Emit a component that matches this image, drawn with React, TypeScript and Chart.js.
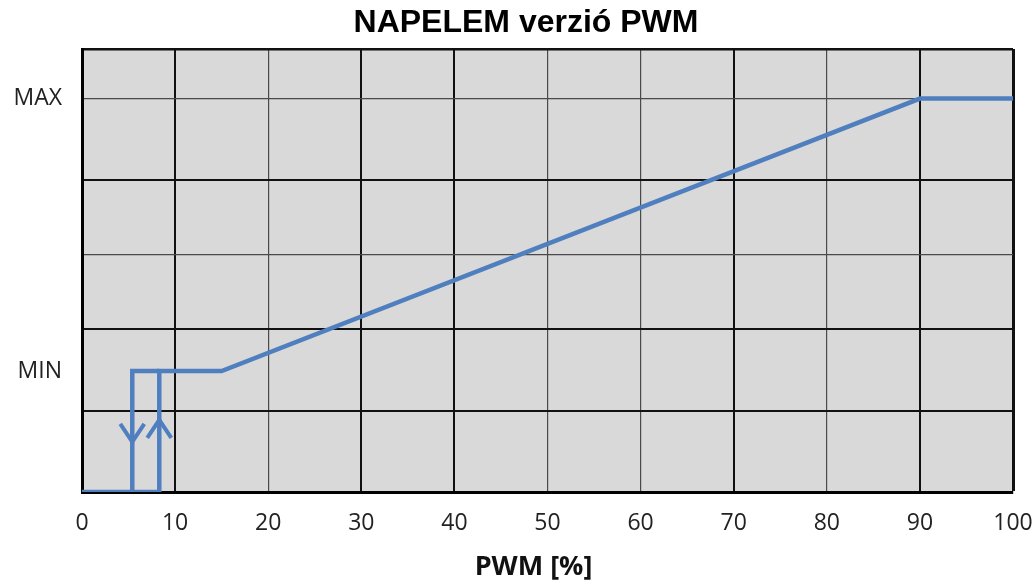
import React, { useEffect, useRef } from "react";
import { Chart, registerables } from "chart.js";

Chart.register(...registerables);

// ---- data ----
const chartTitle = "NAPELEM verzió PWM";
const xAxisTitle = "PWM [%]";
const xTickValues = [0, 10, 20, 30, 40, 50, 60, 70, 80, 90, 100];
// y in percent of the vertical extent (0 = bottom, 100 = top)
const yGridValues = [0, 18.3, 36.8, 53.7, 70.4, 88.8, 100];
const yLabelValues = [27.3, 88.8];
const yLabelTexts = ["MIN", "MAX"];
const minLevel = 27.3;
const maxLevel = 88.8;

// main curve (switch-on path and ramp)
const mainX = [0, 8.3, 8.3, 15, 90, 100];
const mainY = [0, 0, minLevel, minLevel, maxLevel, maxLevel];
// switch-off branch of the hysteresis
const offX = [5.4, 5.4, 8.3];
const offY = [0, minLevel, minLevel];
// arrow heads: tip positions and direction (-1 down, 1 up)
const arrowX = [5.4, 8.3];
const arrowY = [11.3, 16.3];
const arrowDir = [-1, 1];

// grid emphasis (thicker lines)
const thickX = [10, 30, 40, 70, 90];
const thickY = [18.3, 36.8, 70.4];

const BLUE = "#4f7fbf";

const bgPlugin = {
  id: "plotBg",
  beforeDraw(chart: any) {
    const { ctx, chartArea } = chart;
    ctx.save();
    ctx.fillStyle = "#d9d9d9";
    ctx.fillRect(chartArea.left, chartArea.top, chartArea.right - chartArea.left, chartArea.bottom - chartArea.top);
    ctx.restore();
  },
};

const textPlugin = {
  id: "texts",
  afterDraw(chart: any) {
    const { ctx, chartArea, width } = chart;
    ctx.save();
    ctx.textAlign = "center";
    ctx.textBaseline = "middle";
    ctx.fillStyle = "#000";
    ctx.font = "bold 32px 'Liberation Sans', Arial, sans-serif";
    ctx.fillText(chartTitle, width / 2 + 9, 23);
    ctx.fillStyle = "#111";
    ctx.font = "bold 27px 'Open Sans', sans-serif";
    ctx.fillText(xAxisTitle, (chartArea.left + chartArea.right) / 2 - 14, chartArea.bottom + 75);
    ctx.restore();
  },
};

const arrowPlugin = {
  id: "arrows",
  afterDatasetsDraw(chart: any) {
    const { ctx, scales } = chart;
    ctx.save();
    ctx.strokeStyle = BLUE;
    ctx.lineWidth = 4;
    ctx.lineCap = "butt";
    ctx.lineJoin = "miter";
    for (let i = 0; i < arrowX.length; i++) {
      const px = scales.x.getPixelForValue(arrowX[i]);
      const py = scales.y.getPixelForValue(arrowY[i]);
      const d = arrowDir[i];
      ctx.beginPath();
      ctx.moveTo(px - 12, py + 18 * d);
      ctx.lineTo(px, py);
      ctx.lineTo(px + 12, py + 18 * d);
      ctx.stroke();
    }
    ctx.restore();
  },
};

export default function App() {
  const ref = useRef<HTMLCanvasElement | null>(null);
  useEffect(() => {
    if (!ref.current) return;
    const chart = new Chart(ref.current, {
      type: "scatter",
      data: {
        datasets: [
          {
            data: mainX.map((x, i) => ({ x, y: mainY[i] })),
            showLine: true,
            borderColor: BLUE,
            borderWidth: 4.5,
            pointRadius: 0,
            fill: false,
            tension: 0,
          },
          {
            data: offX.map((x, i) => ({ x, y: offY[i] })),
            showLine: true,
            borderColor: BLUE,
            borderWidth: 4.5,
            pointRadius: 0,
            fill: false,
            tension: 0,
          },
        ],
      },
      options: {
        responsive: false,
        animation: false,
        layout: { padding: { left: 0, right: 0, top: 49, bottom: 0 } },
        plugins: {
          legend: { display: false },
          tooltip: { enabled: false },
          title: { display: false },
        },
        scales: {
          x: {
            type: "linear",
            min: 0,
            max: 100,
            afterBuildTicks: (s: any) => {
              s.ticks = xTickValues.map((v) => ({ value: v }));
            },
            afterFit: (s: any) => {
              s.height = 93;
              s.paddingRight = 21;
              s.paddingLeft = 0;
            },
            ticks: {
              color: "#222",
              font: { family: "'Open Sans', sans-serif", size: 23 },
              padding: 18,
              maxRotation: 0,
            },
            grid: {
              drawTicks: false,
              color: (c: any) => (thickX.includes(c.tick?.value) || c.tick?.value === 100 ? "#111" : "#4a4a4a"),
              lineWidth: (c: any) => (c.tick?.value === 100 ? 3 : thickX.includes(c.tick?.value) ? 2 : 1.2),
            },
            border: { display: true, color: "#000", width: 3 },
            title: { display: false },
          },
          y: {
            type: "linear",
            min: 0,
            max: 100,
            afterBuildTicks: (s: any) => {
              const vals = [...yGridValues, ...yLabelValues.filter((v) => !yGridValues.includes(v))].sort((a, b) => a - b);
              s.ticks = vals.map((v) => ({ value: v }));
            },
            afterFit: (s: any) => {
              s.width = 82;
            },
            ticks: {
              color: "#222",
              font: { family: "'Open Sans', sans-serif", size: 23 },
              padding: 20,
              callback: (v: any) => {
                const i = yLabelValues.indexOf(Number(v));
                return i >= 0 ? yLabelTexts[i] : "";
              },
            },
            grid: {
              drawTicks: false,
              color: (c: any) => {
                const v = c.tick?.value;
                if (!yGridValues.includes(v)) return "rgba(0,0,0,0)";
                return thickY.includes(v) || v === 100 ? "#111" : "#4a4a4a";
              },
              lineWidth: (c: any) => {
                const v = c.tick?.value;
                return v === 100 ? 2.5 : thickY.includes(v) ? 2 : 1.2;
              },
            },
            border: { display: true, color: "#000", width: 3 },
          },
        },
      },
      plugins: [bgPlugin, arrowPlugin, textPlugin],
    } as any);
    return () => chart.destroy();
  }, []);
  return (
    <div style={{ position: "fixed", left: 0, top: 0, width: 1034, height: 585, background: "#fff" }}>
      <canvas ref={ref} width={1034} height={585} style={{ display: "block" }} />
    </div>
  );
}
